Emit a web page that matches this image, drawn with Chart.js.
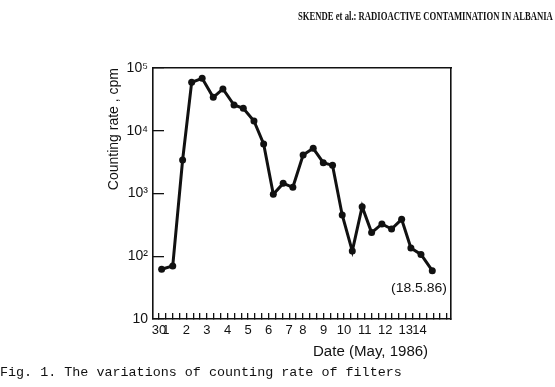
<!DOCTYPE html>
<html>
<head>
<meta charset="utf-8">
<script src="https://cdn.jsdelivr.net/npm/chart.js@4.4.0/dist/chart.umd.min.js"></script>
<style>
body { margin: 0; background: #fff; }
#wrap { position: relative; width: 555px; height: 387px; overflow: hidden; }
canvas { position: absolute; left: 0; top: 0; }
.txt { position: absolute; white-space: nowrap; color: #111; transform-origin: 0 0; line-height: 1; }
#head { left: 298px; top: 8px; font: bold 13px "Liberation Serif", serif; }
#caption { left: 0; top: 365px; font: 13.4px "Liberation Mono", monospace; }
#xtitle { left: 313px; top: 343px; font: 14px "Liberation Sans", sans-serif; }
#note { left: 391px; top: 280px; font: 13px "Liberation Sans", sans-serif; }
</style>
</head>
<body>
<div id="wrap">
<canvas id="chart" width="555" height="387"></canvas>
<div class="txt" id="head">SKENDE et al.: RADIOACTIVE CONTAMINATION IN ALBANIA</div>
<div class="txt" id="xtitle">Date (May, 1986)</div>
<div class="txt" id="note">(18.5.86)</div>
<div class="txt" id="caption">Fig. 1. The variations of counting rate of filters</div>
</div>
<script>
// sampling times, days counted from the "30" mark (30 April)
var days = [0.13, 0.67, 1.15, 1.59, 2.10, 2.64, 3.11, 3.65, 4.10, 4.62,
            5.09, 5.56, 6.04, 6.51, 7.01, 7.50, 7.99, 8.44, 8.91, 9.40,
            9.88, 10.34, 10.84, 11.31, 11.80, 12.25, 12.74, 13.29];
// counting rate, cpm
var counts = [62, 70, 3420, 59200, 68500, 34100, 46300, 25700, 22800, 14300,
              6150, 970, 1450, 1255, 4110, 5250, 3100, 2810, 454, 121,
              617, 238, 327, 272, 388, 135, 107, 59];

// x axis: a tick mark every 8 hours, labels only on some of them
var tickIndex = [0, 1, 4, 7, 10, 13, 16, 19, 21, 24, 27, 30, 33, 36, 38];
var tickText = ['30', '1', '2', '3', '4', '5', '6', '7', '8', '9', '10', '11', '12', '13', '14'];
var yTicks = [10, 100, 1000, 10000, 100000];
var yTickText = ['10', '10²', '10³', '10⁴', '10⁵'];

var ink = '#111';
var font = 'Liberation Sans';

function fitWidth(id, w) {
	var el = document.getElementById(id);
	el.style.transform = 'scaleX(' + (w / el.offsetWidth) + ')';
}
fitWidth('head', 255);
fitWidth('xtitle', 115);
fitWidth('note', 56);

var points = [];
for (var i = 0; i < days.length; i++) {
	points.push({x: days[i], y: counts[i]});
}

var ctx = document.getElementById('chart');
new Chart(ctx, {
	type: 'line',
	data: {
		datasets: [{
			data: points,
			xAxisID: 'x',
			yAxisID: 'y',
			borderColor: ink,
			borderWidth: 3,
			tension: 0,
			pointRadius: 3.5,
			pointBackgroundColor: ink,
			pointBorderWidth: 0
		}]
	},
	options: {
		responsive: false,
		animation: false,
		layout: { padding: { left: 102, right: 104, top: 68, bottom: 0 } },
		plugins: { legend: { display: false }, tooltip: { enabled: false } },
		scales: {
			x: {
				type: 'linear',
				position: 'bottom',
				min: -0.29,
				max: 14.2,
				afterBuildTicks: function(s) {
					var t = [];
					for (var k = 0; k <= 42; k++) t.push({value: k / 3});
					s.ticks = t;
				},
				afterFit: function(s) { s.height = 68; },
				grid: { drawOnChartArea: false, tickLength: -6, color: ink, lineWidth: 1.3 },
				border: { display: true, color: ink, width: 1.6 },
				ticks: {
					autoSkip: false,
					maxRotation: 0,
					padding: 10,
					color: ink,
					font: { family: font, size: 13 },
					callback: function(v, i) {
						var j = tickIndex.indexOf(i);
						return j < 0 ? '' : tickText[j];
					}
				}
			},
			y: {
				type: 'logarithmic',
				position: 'left',
				min: 10,
				max: 100000,
				afterBuildTicks: function(s) {
					s.ticks = yTicks.map(function(v) { return {value: v}; });
				},
				afterFit: function(s) { s.width = 51; },
				grid: { drawOnChartArea: false, tickLength: -11, color: ink, lineWidth: 1.3 },
				border: { display: true, color: ink, width: 1.6 },
				ticks: {
					padding: 16,
					color: ink,
					font: { family: font, size: 14 },
					callback: function(v) {
						var j = yTicks.indexOf(v);
						return j < 0 ? '' : yTickText[j];
					}
				},
				title: {
					display: true,
					text: 'Counting rate , cpm',
					align: 'end',
					color: ink,
					font: { family: font, size: 14 },
					padding: { top: 4, bottom: 0 }
				}
			},
			x2: {
				type: 'linear',
				position: 'top',
				display: true,
				afterFit: function(s) { s.height = 0; },
				grid: { display: false, drawTicks: false },
				ticks: { display: false },
				border: { display: true, color: ink, width: 1.6 }
			},
			y2: {
				type: 'linear',
				position: 'right',
				display: true,
				afterFit: function(s) { s.width = 0; },
				grid: { display: false, drawTicks: false },
				ticks: { display: false },
				border: { display: true, color: ink, width: 1.6 }
			}
		}
	}
});
</script>
</body>
</html>
